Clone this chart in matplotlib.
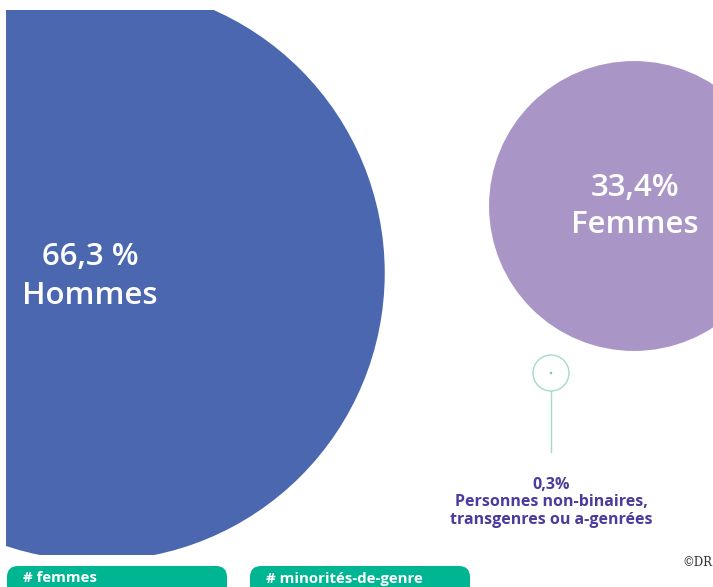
import matplotlib
matplotlib.use("Agg")
import matplotlib.pyplot as plt
from matplotlib.patches import Circle, Rectangle, FancyBboxPatch

# ---- data ----
categories = ["Hommes", "Femmes", "Personnes non-binaires,\ntransgenres ou a-genrées"]
values = [66.3, 33.4, 0.3]
value_labels = ["66,3 %", "33,4%", "0,3%"]
tags = ["# femmes", "# minorités-de-genre"]
credit = "©DR"

# ---- style ----
blue = "#4a67b0"
purple = "#a996c7"
dark_purple = "#4b3b9c"
mint = "#a3dcc2"
green = "#00b592"
font_main = ["Open Sans", "DejaVu Sans"]

W, H = 713, 587
fig = plt.figure(figsize=(W / 100, H / 100), dpi=100)
ax = fig.add_axes([0, 0, 1, 1])
ax.set_xlim(0, W)
ax.set_ylim(H, 0)
ax.axis("off")

scale = 4.34  # px of radius per percent
centers = [(97, 273), (634, 206), (551, 373)]
clip = Rectangle((6, 10), W - 6, 545, transform=ax.transData, visible=False)
ax.add_patch(clip)

# big circles
for (cx, cy), v, col in zip(centers[:2], values[:2], [blue, purple]):
    c = Circle((cx, cy), v * scale, facecolor=col, edgecolor="none", zorder=1)
    ax.add_patch(c)
    c.set_clip_path(clip)

# labels in big circles
ax.text(90, 257, value_labels[0], color="white", fontsize=22.5, family=font_main,
        weight="semibold", ha="center", va="center", zorder=3)
ax.text(90, 296, categories[0], color="white", fontsize=22.5, family=font_main,
        weight="semibold", ha="center", va="center", zorder=3)
ax.text(635, 188, value_labels[1], color="white", fontsize=22.5, family=font_main,
        weight="semibold", ha="center", va="center", zorder=3)
ax.text(635, 225, categories[1], color="white", fontsize=22.5, family=font_main,
        weight="semibold", ha="center", va="center", zorder=3)

# small bubble
sx, sy = centers[2]
ax.add_patch(Circle((sx, sy), 18, facecolor="none", edgecolor=mint, lw=1.0, zorder=2))
ax.add_patch(Circle((sx, sy), max(values[2] * scale, 1.2), facecolor="#7fcfae",
                    edgecolor="none", zorder=2))
ax.plot([sx, sx], [sy + 18, 452], color=mint, lw=1.0, zorder=2)
ax.text(sx, 485, value_labels[2], color=dark_purple, fontsize=11.5, family=font_main,
        weight="bold", ha="center", va="center")
ax.text(sx, 511, categories[2], color=dark_purple, fontsize=11.5, family=font_main,
        weight="bold", ha="center", va="center", linespacing=1.1)

# tags
tag_x = [7, 250]
for x0, t in zip(tag_x, tags):
    ax.add_patch(FancyBboxPatch((x0, 566), 220, 34,
                                boxstyle="round,pad=0,rounding_size=11",
                                facecolor=green, edgecolor="none", zorder=2))
    ax.text(x0 + 16, 578.5, t, color="white", fontsize=10.8, weight="bold",
            family=font_main, ha="left", va="center", zorder=3)

ax.text(712, 563, credit, color="#333333", fontsize=8.5, family=["DejaVu Serif"],
        ha="right", va="center")

fig.savefig("out.png", dpi=100)
